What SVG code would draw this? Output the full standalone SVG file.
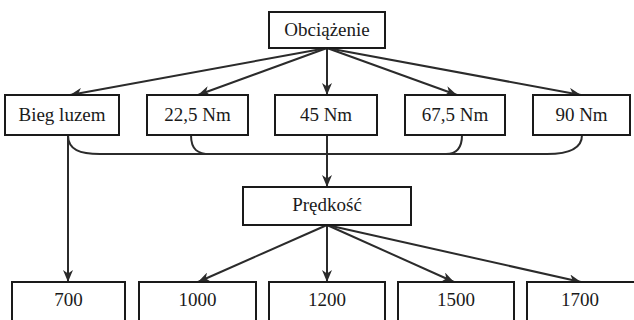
<svg xmlns="http://www.w3.org/2000/svg" width="634" height="320" viewBox="0 0 634 320">
<defs>
<style>
.box{fill:#fff;stroke:#1a1a1a;stroke-width:2}
.lbl{font-family:"Liberation Serif","Times New Roman",serif;font-size:19px;fill:#1a1a1a;text-anchor:middle}
.ln{fill:none;stroke:#2b2b2b;stroke-width:2}
.arr{marker-end:url(#ah)}
</style>
<marker id="ah" viewBox="0 0 12 10" refX="12" refY="5" markerWidth="12" markerHeight="10" markerUnits="userSpaceOnUse" orient="auto">
<path d="M0,0 L12,5 L0,10 L3.5,5 z" fill="#2b2b2b"/>
</marker>
</defs>
<rect width="634" height="320" fill="#fff"/>
<g id="connectors">
<line class="ln arr" x1="327" y1="48" x2="70" y2="95"/>
<line class="ln arr" x1="327" y1="48" x2="198" y2="95"/>
<line class="ln arr" x1="327" y1="48" x2="327" y2="95"/>
<line class="ln arr" x1="327" y1="48" x2="457" y2="95"/>
<line class="ln arr" x1="327" y1="48" x2="581" y2="95"/>
<path class="ln" d="M68,135 C68,150 80,154 100,154 L547,154 C566,154 582,150 582,135"/>
<path class="ln" d="M191,135 C191,150 198,154 210,154"/>
<path class="ln" d="M462,135 C462,150 455,154 446,154"/>
<line class="ln arr" x1="327" y1="135" x2="327" y2="187"/>
<line class="ln arr" x1="68" y1="135" x2="68" y2="282"/>
<line class="ln arr" x1="327" y1="225" x2="198" y2="282"/>
<line class="ln arr" x1="327" y1="225" x2="327" y2="282"/>
<line class="ln arr" x1="327" y1="225" x2="454" y2="282"/>
<line class="ln arr" x1="327" y1="225" x2="581" y2="282"/>
</g>
<g id="obciazenie"><rect class="box" x="269" y="12" width="116" height="36"/><text class="lbl" x="327" y="36">Obciążenie</text></g>
<g id="bieg-luzem"><rect class="box" x="5" y="95" width="114" height="40"/><text class="lbl" x="62" y="121">Bieg luzem</text></g>
<g id="nm225"><rect class="box" x="147" y="95" width="101" height="40"/><text class="lbl" x="197.5" y="121">22,5 Nm</text></g>
<g id="nm45"><rect class="box" x="275" y="95" width="102" height="40"/><text class="lbl" x="326" y="121">45 Nm</text></g>
<g id="nm675"><rect class="box" x="405" y="95" width="100" height="40"/><text class="lbl" x="455" y="121">67,5 Nm</text></g>
<g id="nm90"><rect class="box" x="533" y="95" width="97" height="40"/><text class="lbl" x="581.5" y="121">90 Nm</text></g>
<g id="predkosc"><rect class="box" x="243" y="187" width="168" height="38"/><text class="lbl" x="327" y="211">Prędkość</text></g>
<g id="v700"><rect class="box" x="12" y="282" width="113" height="42"/><text class="lbl" x="68.5" y="306">700</text></g>
<g id="v1000"><rect class="box" x="139" y="282" width="117" height="42"/><text class="lbl" x="197.5" y="306">1000</text></g>
<g id="v1200"><rect class="box" x="269" y="282" width="116" height="42"/><text class="lbl" x="327" y="306">1200</text></g>
<g id="v1500"><rect class="box" x="398" y="282" width="116" height="42"/><text class="lbl" x="456" y="306">1500</text></g>
<g id="v1700"><rect class="box" x="527" y="282" width="116" height="42"/><text class="lbl" x="580" y="306">1700</text></g>
</svg>
